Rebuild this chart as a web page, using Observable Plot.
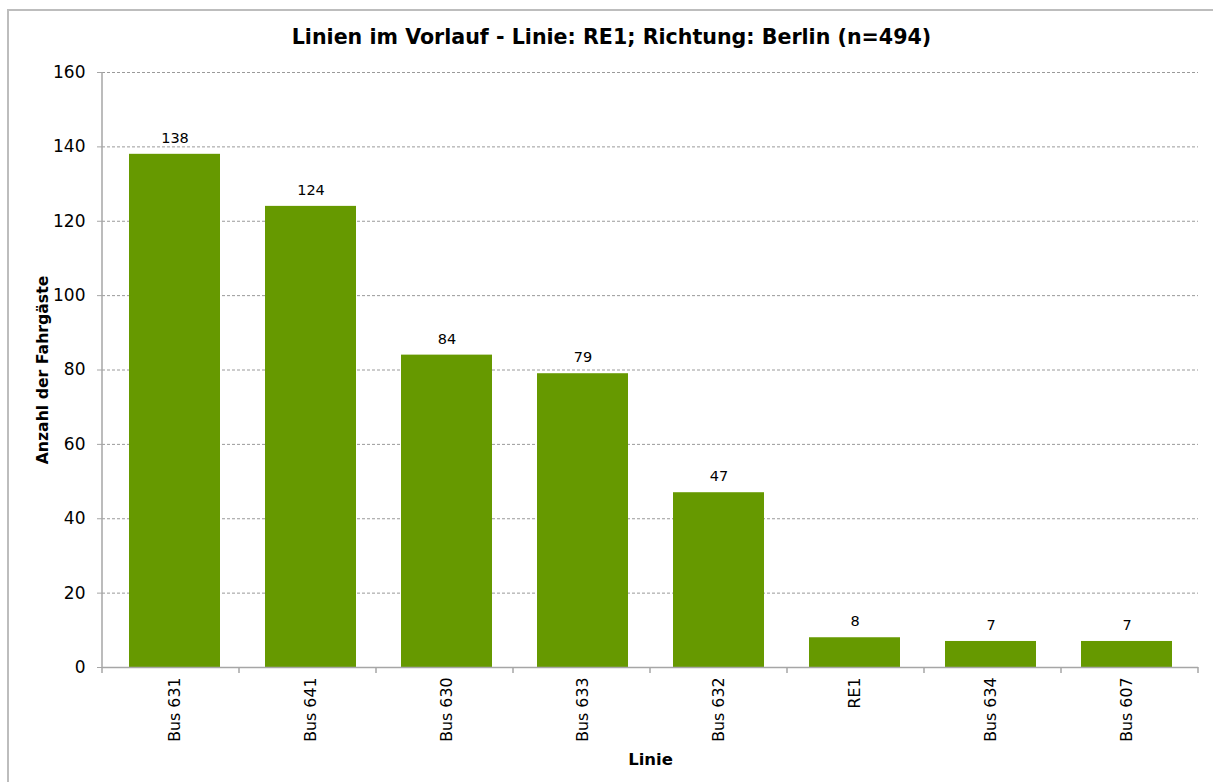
<!DOCTYPE html>
<html>
<head>
<meta charset="utf-8">
<script src="https://cdn.jsdelivr.net/npm/d3@7"></script>
<script src="https://cdn.jsdelivr.net/npm/@observablehq/plot@0.6"></script>
<style>
  html, body { margin: 0; padding: 0; background: #fff; }
  body { width: 1213px; height: 782px; overflow: hidden; position: relative; font-family: "DejaVu Sans", sans-serif; }
  #frame { position: absolute; left: 7px; top: 9px; width: 1300px; height: 900px; border-left: 2px solid #bdbdbd; border-top: 2px solid #bdbdbd; }
  #title { position: absolute; left: 0; top: 25px; width: 1223px; text-align: center; font-weight: bold; font-size: 20.6px; line-height: 24px; color: #000; }
  #chart { position: absolute; left: 0; top: 50px; }
</style>
</head>
<body>
<div id="frame"></div>
<div id="title">Linien im Vorlauf - Linie: RE1; Richtung: Berlin (n=494)</div>
<div id="chart"></div>
<script>
const categories = ["Bus 631", "Bus 641", "Bus 630", "Bus 633", "Bus 632", "RE1", "Bus 634", "Bus 607"];
const values = [138, 124, 84, 79, 47, 8, 7, 7];
const yTicks = [0, 20, 40, 60, 80, 100, 120, 140, 160];
const yTitle = "Anzahl der Fahrgäste";
const xTitle = "Linie";

const data = categories.map((c, i) => ({linie: c, anzahl: values[i]}));
const barColor = "#669900";
const axisColor = "#a6a6a6";

// left axis line and category boundary tick marks (derived from the scales' ranges)
function axisFrame(index, scales, values, dims) {
  const ns = "http://www.w3.org/2000/svg";
  const g = document.createElementNS(ns, "g");
  const x0 = dims.marginLeft, x1 = dims.width - dims.marginRight;
  const yb = dims.height - dims.marginBottom, yt = dims.marginTop;
  const line = (a, b, c, d) => {
    const l = document.createElementNS(ns, "line");
    l.setAttribute("x1", a); l.setAttribute("x2", c);
    l.setAttribute("y1", b); l.setAttribute("y2", d);
    l.setAttribute("stroke", axisColor); l.setAttribute("stroke-width", 1.5);
    g.appendChild(l);
  };
  line(x0, yt, x0, yb);
  const n = categories.length;
  for (let i = 0; i <= n; i++) {
    const x = x0 + (x1 - x0) * i / n;
    line(x, yb, x, yb + 6);
  }
  return g;
}

const chart = Plot.plot({
  width: 1213,
  height: 732,
  marginLeft: 102,
  marginRight: 15,
  marginTop: 22,
  marginBottom: 115,
  style: {fontFamily: "DejaVu Sans, sans-serif", fontSize: "17px", color: "#000", background: "transparent"},
  x: {domain: categories, paddingInner: 0.333, paddingOuter: 0.1667, label: null},
  y: {domain: [0, 160], label: null},
  marks: [
    Plot.gridY(yTicks, {stroke: "#9a9a9a", strokeOpacity: 1, strokeDasharray: "3,2", strokeWidth: 1}),
    Plot.barY(data, {x: "linie", y: "anzahl", fill: barColor}),
    Plot.axisY(yTicks, {tickSize: 5, tickPadding: 12, stroke: axisColor, fontSize: 17, label: null}),
    Plot.axisX({tickSize: 0, tickPadding: 10, tickRotate: -90, fontSize: 15.8, label: null}),
    Plot.ruleY([0], {stroke: axisColor, strokeWidth: 1.5}),
    axisFrame,
    Plot.text(data, {x: "linie", y: "anzahl", text: d => String(d.anzahl), dy: -16, fontSize: 14.5, fill: "#000"}),
    Plot.text([yTitle], {frameAnchor: "left", textAnchor: "middle", dx: -60, rotate: -90, fontWeight: "bold", fontSize: 15.7, fill: "#000"}),
    Plot.text([xTitle], {frameAnchor: "bottom", dy: 97, fontWeight: "bold", fontSize: 16.5, fill: "#000"})
  ]
});
document.getElementById("chart").appendChild(chart);
</script>
</body>
</html>
